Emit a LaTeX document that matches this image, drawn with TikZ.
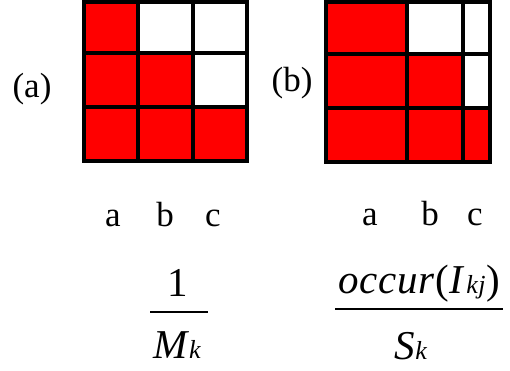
\documentclass[tikz,border=0pt]{standalone}
\usepackage{fontspec}
\setmainfont{Liberation Serif}
\newcommand{\subsc}[1]{{\fontsize{26}{28}\selectfont\textit{#1}}}
\begin{document}
\begin{tikzpicture}[x=1pt,y=-1pt,
  cellfill/.style={fill=red,draw=black,line width=3.5pt},
  cellempty/.style={fill=white,draw=black,line width=3.5pt},
  lab/.style={inner sep=0pt,anchor=base,font=\fontsize{35}{38}\selectfont},
  colab/.style={inner sep=0pt,anchor=base,font=\fontsize{35}{38}\selectfont},
  frac/.style={inner sep=0pt,anchor=base,font=\fontsize{41}{44}\selectfont},
  fracbar/.style={line width=2pt}]
\useasboundingbox (0,0) rectangle (510,370);
% grid (a)
\path[cellfill] (84,2) rectangle (138,53);
\path[cellempty] (138,2) rectangle (193,53);
\path[cellempty] (193,2) rectangle (247,53);
\path[cellfill] (84,53) rectangle (138,107);
\path[cellfill] (138,53) rectangle (193,107);
\path[cellempty] (193,53) rectangle (247,107);
\path[cellfill] (84,107) rectangle (138,161);
\path[cellfill] (138,107) rectangle (193,161);
\path[cellfill] (193,107) rectangle (247,161);
% grid (b)
\path[cellfill] (326,2) rectangle (407,54);
\path[cellempty] (407,2) rectangle (463,54);
\path[cellempty] (463,2) rectangle (490,54);
\path[cellfill] (326,54) rectangle (407,108);
\path[cellfill] (407,54) rectangle (463,108);
\path[cellempty] (463,54) rectangle (490,108);
\path[cellfill] (326,108) rectangle (407,162);
\path[cellfill] (407,108) rectangle (463,162);
\path[cellfill] (463,108) rectangle (490,162);
% labels
\node[lab] (la) at (32,97) {(a)};
\node[lab] (lb) at (292,91) {(b)};
\node[colab] (aa) at (113,226) {a};
\node[colab] (ab) at (165,226) {b};
\node[colab] (ac) at (213,226) {c};
\node[colab] (ba) at (370,225) {a};
\node[colab] (bb) at (430,225) {b};
\node[colab] (bc) at (475,225) {c};
% fractions
\node[frac] (n1) at (178,296) {1};
\coordinate (b1l) at (150,312);
\coordinate (b1r) at (208,312);
\draw[fracbar] (b1l) -- (b1r);
\node[frac] (d1) at (177,358) {\textit{M}\subsc{k}};
\node[frac] (n2) at (419,293) {\addfontfeature{LetterSpace=2}\textit{occur}(\textit{I}\kern1pt\subsc{kj})};
\coordinate (b2l) at (335,309);
\coordinate (b2r) at (503,309);
\draw[fracbar] (b2l) -- (b2r);
\node[frac] (d2) at (411,359) {\textit{S}\subsc{k}};
\end{tikzpicture}
\end{document}
